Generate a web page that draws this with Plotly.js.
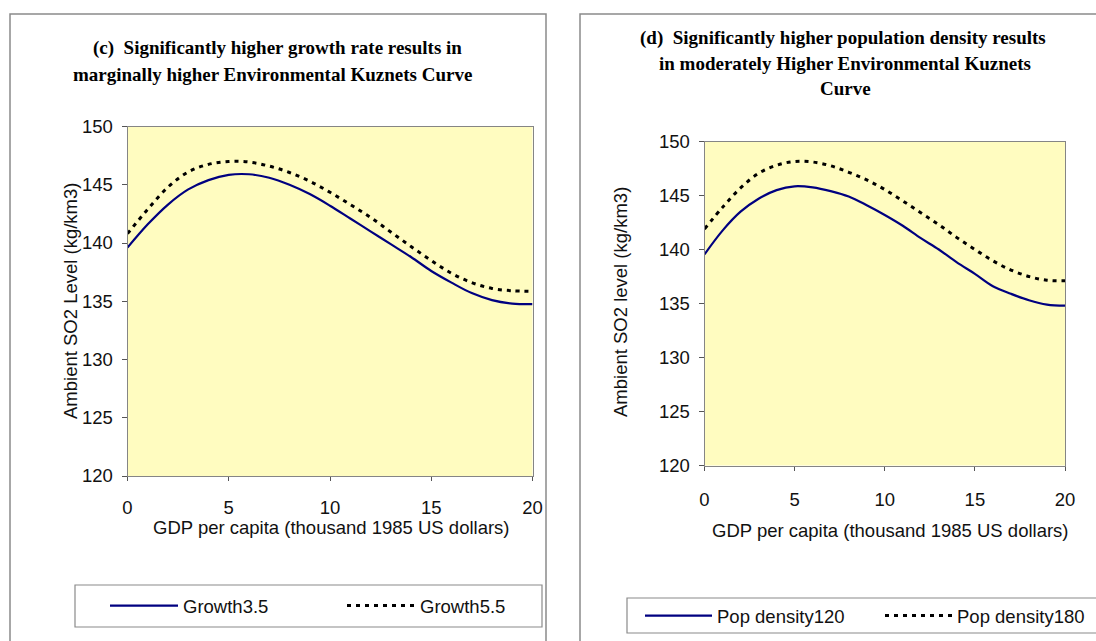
<!DOCTYPE html>
<html>
<head>
<meta charset="utf-8">
<script src="https://cdn.plot.ly/plotly-3.0.1.min.js"></script>
<style>
  html, body { margin: 0; padding: 0; background: #ffffff; }
  #chart { width: 1096px; height: 641px; }
</style>
</head>
<body>
<div id="chart"></div>
<script>
// GDP per capita (thousand 1985 US dollars)
const gdp = [0, 1, 2, 3, 4, 5, 6, 7, 8, 9, 10, 11, 12, 13, 14, 15, 16, 17, 18, 19, 20];

// Panel (c): ambient SO2 level by growth rate
const growth35 = [139.6, 141.6, 143.3, 144.6, 145.4, 145.85, 145.9, 145.6, 145.0, 144.2, 143.2, 142.1, 141.0, 139.9, 138.8, 137.6, 136.6, 135.7, 135.1, 134.8, 134.75];
const growth55 = [140.8, 142.9, 144.8, 146.1, 146.75, 147.0, 146.95, 146.6, 146.05, 145.3, 144.35, 143.3, 142.2, 140.95, 139.7, 138.5, 137.4, 136.6, 136.1, 135.9, 135.85];

// Panel (d): ambient SO2 level by population density
const pop120 = [139.55, 141.75, 143.5, 144.7, 145.5, 145.85, 145.75, 145.4, 144.9, 144.1, 143.2, 142.2, 141.05, 140.0, 138.8, 137.75, 136.6, 135.9, 135.3, 134.9, 134.8];
const pop180 = [141.9, 143.9, 145.7, 147.05, 147.8, 148.15, 148.1, 147.75, 147.15, 146.45, 145.55, 144.5, 143.4, 142.3, 141.1, 140.0, 138.95, 138.1, 137.5, 137.15, 137.1];

// Labels
const titleC = ['(c)  Significantly higher growth rate results in', 'marginally higher Environmental Kuznets Curve'];
const titleD = ['(d)  Significantly higher population density results', 'in moderately Higher Environmental Kuznets', 'Curve'];
const xTitle = 'GDP per capita (thousand 1985 US dollars)';
const yTitleC = 'Ambient SO2 Level (kg/km3)';
const yTitleD = 'Ambient SO2 level (kg/km3)';
const namesC = ['Growth3.5', 'Growth5.5'];
const namesD = ['Pop density120', 'Pop density180'];
const xTicks = [0, 5, 10, 15, 20];
const yTicks = [120, 125, 130, 135, 140, 145, 150];

const W = 1096, H = 641;
const px = v => v / W;
const py = v => 1 - v / H;

const SANS = 'Liberation Sans, Arial, sans-serif';
const SERIF = 'Liberation Serif, Times New Roman, serif';
const NAVY = '#000080';
const AXIS = '#858585';
const FS = 18.5;

const solid = { color: NAVY, width: 2.2, shape: 'spline', smoothing: 1 };
const dashed = { color: '#000000', width: 3, dash: '4px,5px', shape: 'spline', smoothing: 1 };

const traces = [
  { x: gdp, y: growth35, name: namesC[0], mode: 'lines', line: solid, xaxis: 'x', yaxis: 'y', legend: 'legend' },
  { x: gdp, y: growth55, name: namesC[1], mode: 'lines', line: dashed, xaxis: 'x', yaxis: 'y', legend: 'legend' },
  { x: gdp, y: pop120, name: namesD[0], mode: 'lines', line: solid, xaxis: 'x2', yaxis: 'y2', legend: 'legend2' },
  { x: gdp, y: pop180, name: namesD[1], mode: 'lines', line: dashed, xaxis: 'x2', yaxis: 'y2', legend: 'legend2' }
];

function xAxis(domain, anchor, standoff) {
  return {
    domain: domain, anchor: anchor, range: [0, 20], tickvals: xTicks,
    showgrid: false, zeroline: false, showline: true, mirror: true,
    linecolor: AXIS, linewidth: 1, ticks: 'outside', ticklen: 4, tickcolor: '#555', tickwidth: 1,
    tickfont: { family: SANS, size: FS, color: '#111' }, ticklabelstandoff: standoff, fixedrange: true
  };
}
function yAxis(domain, anchor) {
  return {
    domain: domain, anchor: anchor, range: [120, 150], tickvals: yTicks,
    showgrid: false, zeroline: false, showline: true, mirror: true,
    linecolor: AXIS, linewidth: 1, ticks: 'outside', ticklen: 5, tickcolor: '#555', tickwidth: 1,
    tickfont: { family: SANS, size: FS, color: '#111' }, ticklabelstandoff: 5, fixedrange: true
  };
}
// inner halves of the crossing tick marks
function innerX(over, anchor) {
  return { overlaying: over, anchor: anchor, range: [0, 20], tickvals: xTicks, showticklabels: false,
    showgrid: false, zeroline: false, showline: false, ticks: 'inside', ticklen: 4, tickcolor: '#555', tickwidth: 1 };
}
function innerY(over, anchor) {
  return { overlaying: over, anchor: anchor, range: [120, 150], tickvals: yTicks, showticklabels: false,
    showgrid: false, zeroline: false, showline: false, ticks: 'inside', ticklen: 5, tickcolor: '#555', tickwidth: 1 };
}

const domC = { x: [px(127.5), px(532.5)], y: [py(476), py(126.5)] };
const domD = { x: [px(704.5), px(1065)], y: [py(465.5), py(141.5)] };

const annotations = [];
function addText(text, x, y, font, angle) {
  annotations.push({ text: text, x: px(x), y: py(y), xref: 'paper', yref: 'paper',
    xanchor: 'center', yanchor: 'middle', showarrow: false, font: font, textangle: angle || 0 });
}
const titleFont = { family: SERIF, size: 19, color: '#000', weight: 'bold' };
const labelFont = { family: SANS, size: FS, color: '#111' };

addText('<b>' + titleC[0] + '</b>', 277, 48, titleFont);
addText('<b>' + titleC[1] + '</b>', 272, 75, titleFont);
addText('<b>' + titleD[0] + '</b>', 843, 38, titleFont);
addText('<b>' + titleD[1] + '</b>', 845, 63, titleFont);
addText('<b>' + titleD[2] + '</b>', 845, 88, titleFont);
addText(xTitle, 331, 527, labelFont);
addText(xTitle, 890, 530, labelFont);
addText(yTitleC, 70, 301, labelFont, -90);
addText(yTitleD, 620, 302, labelFont, -90);

const frame = { color: '#8a8a8a', width: 1.5 };
const shapes = [
  { type: 'rect', xref: 'paper', yref: 'paper', x0: px(10), x1: px(546), y0: py(660), y1: py(14), line: frame, layer: 'below' },
  { type: 'rect', xref: 'paper', yref: 'paper', x0: px(580), x1: px(1115), y0: py(660), y1: py(14), line: frame, layer: 'below' },
  { type: 'rect', xref: 'paper', yref: 'paper', x0: px(75), x1: px(542), y0: py(627), y1: py(585), line: { color: '#8a8a8a', width: 1.2 } },
  { type: 'rect', xref: 'paper', yref: 'paper', x0: px(627), x1: px(1110), y0: py(633), y1: py(598), line: { color: '#8a8a8a', width: 1.2 } }
];

const legendBase = {
  orientation: 'h', xanchor: 'left', yanchor: 'middle', bgcolor: 'rgba(0,0,0,0)', borderwidth: 0,
  font: { family: SANS, size: FS, color: '#111' }, entrywidthmode: 'pixels', itemclick: false, itemdoubleclick: false
};

const layout = {
  width: W, height: H,
  margin: { l: 0, r: 0, t: 0, b: 0, autoexpand: false },
  paper_bgcolor: '#ffffff',
  plot_bgcolor: '#fffcc0',
  showlegend: true,
  xaxis: xAxis(domC.x, 'y', 11),
  yaxis: yAxis(domC.y, 'x'),
  xaxis2: xAxis(domD.x, 'y2', 13),
  yaxis2: yAxis(domD.y, 'x2'),
  xaxis3: innerX('x', 'y'),
  yaxis3: innerY('y', 'x'),
  xaxis4: innerX('x2', 'y2'),
  yaxis4: innerY('y2', 'x2'),
  legend: Object.assign({}, legendBase, { x: px(105), y: py(606), itemwidth: 68, entrywidth: 154 }),
  legend2: Object.assign({}, legendBase, { x: px(640), y: py(616), itemwidth: 67, entrywidth: 158 }),
  annotations: annotations,
  shapes: shapes
};

Plotly.newPlot('chart', traces, layout, { staticPlot: true, displayModeBar: false });
</script>
</body>
</html>
